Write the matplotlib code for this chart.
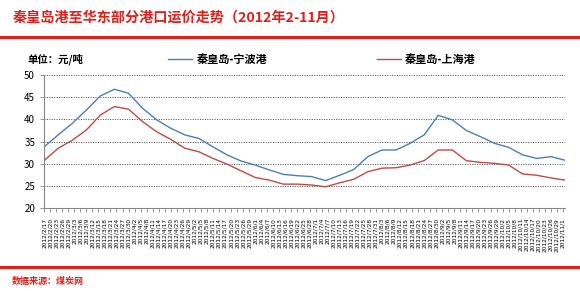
import numpy as np
import matplotlib
matplotlib.use("Agg")
import matplotlib.pyplot as plt
import pandas as pd

plt.rcParams['font.family'] = ['Noto Sans CJK SC', 'DejaVu Sans']

# weekly dates (38 points)
dates = pd.date_range("2012-02-17", periods=38, freq="7D")

# 秦皇岛-宁波港
ningbo = [33.8, 36.5, 39.1, 42.1, 45.3, 46.8, 45.9, 42.5, 39.9, 38.0,
          36.5, 35.7, 33.8, 32.0, 30.6, 29.7, 28.6, 27.6, 27.3, 27.1,
          26.2, 27.4, 28.7, 31.6, 33.1, 33.1, 34.6, 36.5, 40.9, 39.9,
          37.5, 36.1, 34.6, 33.7, 32.0, 31.2, 31.6, 30.8]
# 秦皇岛-上海港
shanghai = [30.7, 33.5, 35.3, 37.6, 41.0, 42.9, 42.3, 39.5, 37.2, 35.5,
            33.5, 32.7, 31.2, 29.9, 28.4, 26.9, 26.3, 25.4, 25.4, 25.2,
            24.8, 25.7, 26.5, 28.2, 29.0, 29.1, 29.7, 30.7, 33.1, 33.1,
            30.7, 30.3, 30.1, 29.7, 27.7, 27.4, 26.8, 26.3]

yticks = [20, 25, 30, 35, 40, 45, 50]

title = "秦皇岛港至华东部分港口运价走势（2012年2-11月）"
unit = "单位：元/吨"
source = "数据来源：煤炭网"

red = "#d9231d"
blue = "#4a7ebb"
dark_red = "#be4b48"

fig = plt.figure(figsize=(5.8, 2.91), dpi=100)
ax = fig.add_axes([0.076, 0.285, 0.898, 0.457])

ax.plot(dates, ningbo, color=blue, lw=1.0)
ax.plot(dates, shanghai, color=dark_red, lw=1.0)

ax.set_ylim(20, 50)
ax.set_yticks(yticks)
ax.set_xlim(dates[0], dates[-1])
ax.yaxis.grid(True, linestyle=(0, (1, 1.5)), color="#444444", lw=0.7)
ax.set_axisbelow(True)

# tick every 3 days, as in the excel chart
ticks = pd.date_range(dates[0], dates[-1], freq="3D")
ax.set_xticks(ticks)
ax.set_xticklabels([f"{d.year}/{d.month}/{d.day}" for d in ticks],
                   rotation=90, fontsize=4.2, family="DejaVu Sans")
ax.tick_params(axis="x", length=3, width=0.6, color="#888888", pad=4)
ax.tick_params(axis="y", length=3, width=0.6, color="#888888", labelsize=7)

for s in ["top", "right"]:
    ax.spines[s].set_visible(False)
for s in ["left", "bottom"]:
    ax.spines[s].set_color("#888888")
    ax.spines[s].set_linewidth(0.8)

# header / footer
fig.text(13 / 580, 1 - 18 / 291, title, color=red, fontsize=10.2,
         fontweight="bold", va="center", ha="left")
fig.add_artist(plt.Line2D([0, 1], [1 - 37 / 291] * 2, color=red, lw=2.2))
fig.add_artist(plt.Line2D([0, 1], [1 - 267 / 291] * 2, color=red, lw=2.2))
fig.text(12 / 580, 1 - 281 / 291, source, color=red, fontsize=6.5,
         fontweight="bold", va="center", ha="left")

fig.text(28 / 580, 1 - 59 / 291, unit, fontsize=7.5, fontweight="bold",
         va="center", ha="left")

# legend
ly = 1 - 59 / 291
fig.add_artist(plt.Line2D([168 / 580, 192 / 580], [ly, ly], color=blue, lw=1))
fig.text(197 / 580, ly, "秦皇岛-宁波港", fontsize=8, fontweight="bold",
         va="center", ha="left")
fig.add_artist(plt.Line2D([377 / 580, 401 / 580], [ly, ly], color=dark_red, lw=1))
fig.text(405 / 580, ly, "秦皇岛-上海港", fontsize=8, fontweight="bold",
         va="center", ha="left")

fig.savefig("out.png", dpi=100)
